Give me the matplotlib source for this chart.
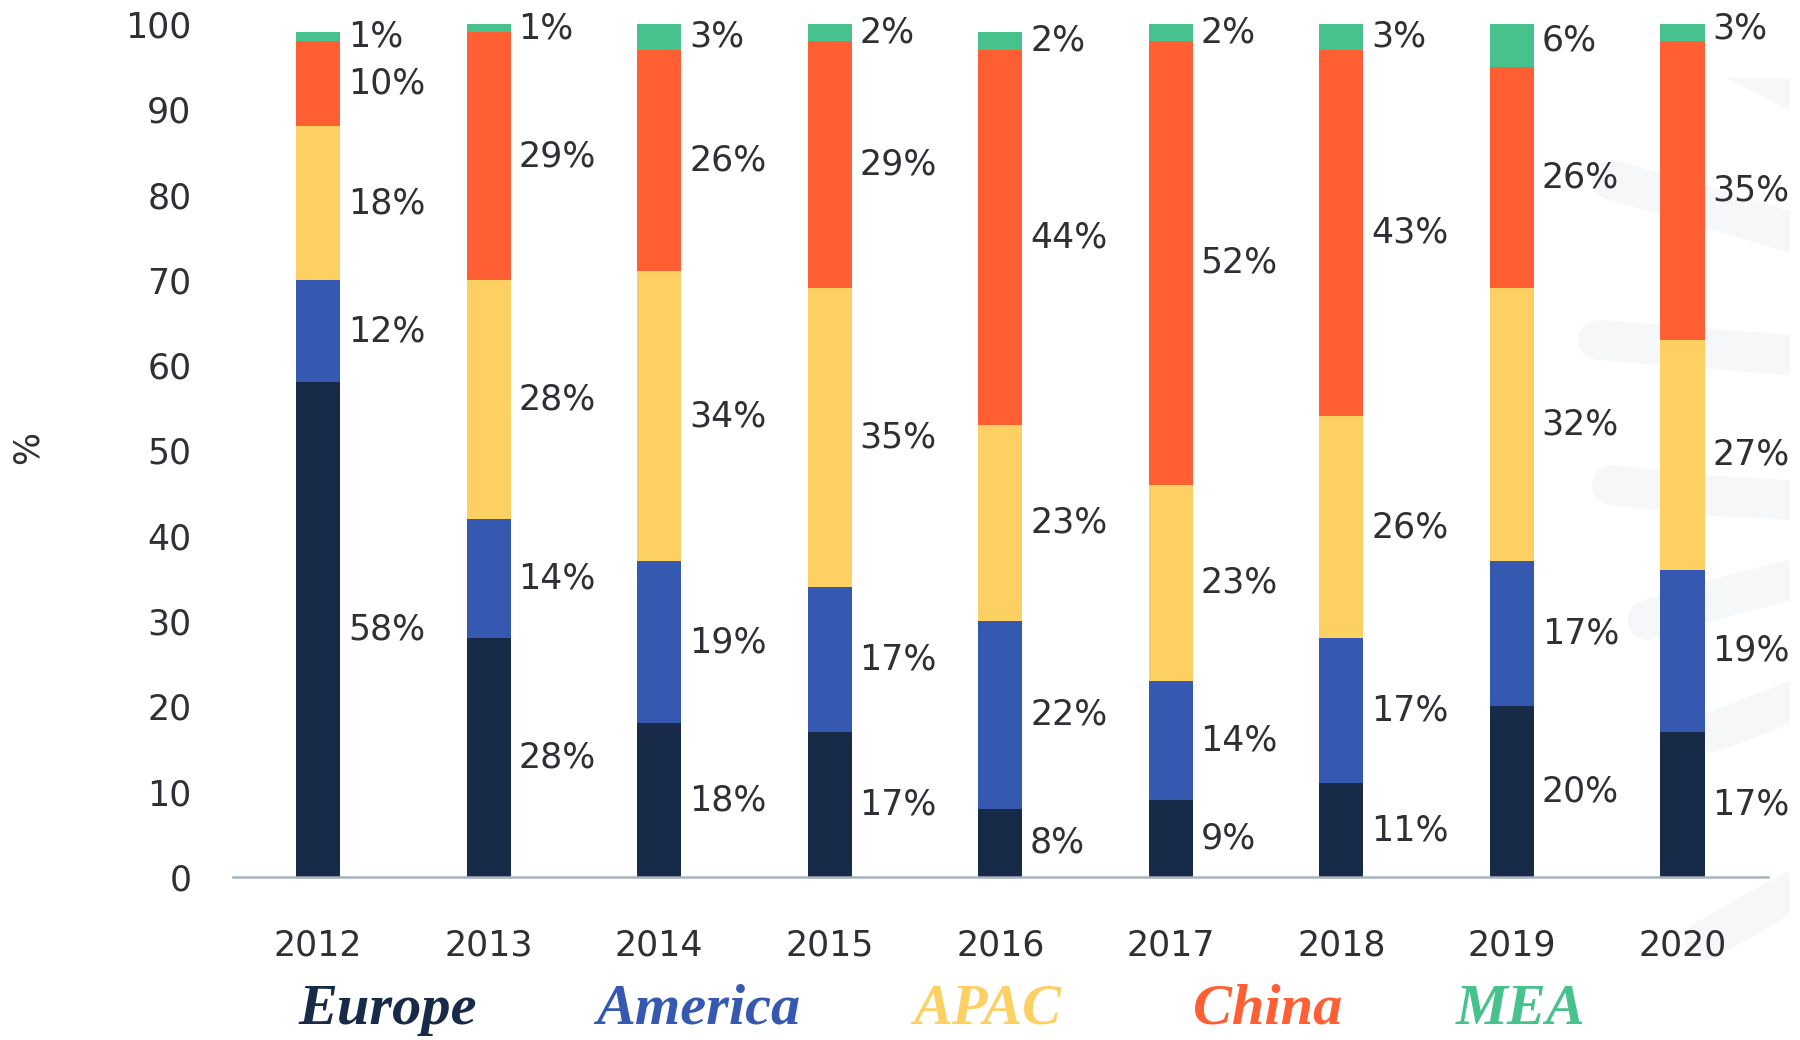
import matplotlib
matplotlib.use("Agg")
import matplotlib.pyplot as plt
from matplotlib.lines import Line2D
from matplotlib.patches import Rectangle
import numpy as np

years = ["2012", "2013", "2014", "2015", "2016", "2017", "2018", "2019", "2020"]
regions = ["Europe", "America", "APAC", "China", "MEA"]
europe = [58, 28, 18, 17, 8, 9, 11, 20, 17]
america = [12, 14, 19, 17, 22, 14, 17, 17, 19]
apac = [18, 28, 34, 35, 23, 23, 26, 32, 27]
china = [10, 29, 26, 29, 44, 52, 43, 26, 35]
mea = [1, 1, 3, 2, 2, 2, 3, 6, 3]
colors = ["#172b48", "#3558b0", "#fdd063", "#ff5f33", "#48c28d"]
yticks = [0, 10, 20, 30, 40, 50, 60, 70, 80, 90, 100]

series = [europe, america, apac, china, mea]
text_c = "#2f3036"

fig = plt.figure(figsize=(18, 10.4), dpi=100)

# faint brush strokes in the background, right edge
clip = Rectangle((1560, 0), 230, 962, transform=None)
strokes = [
    ([1652, 1700, 1790], [20, 45, 92], 34),
    ([1612, 1700, 1790], [180, 205, 232], 40),
    ([1598, 1700, 1790], [340, 348, 355], 40),
    ([1612, 1700, 1790], [485, 495, 500], 40),
    ([1648, 1720, 1790], [620, 598, 580], 40),
    ([1712, 1750, 1790], [732, 718, 702], 40),
    ([1705, 1750, 1790], [940, 915, 892], 40),
]
for xs, ys, w in strokes:
    ln = Line2D(xs, [1040 - y for y in ys], transform=None, color="#f6f7f9",
                lw=w * 0.72, solid_capstyle="round", zorder=0)
    ln.set_clip_path(clip)
    fig.add_artist(ln)

ax = fig.add_axes([0.1294, 0.1567, 0.8526, 0.8203])
ax.patch.set_alpha(0)

x = np.arange(len(years))
width = 0.26
bottom = np.zeros(len(years))
for vals, c in zip(series, colors):
    ax.bar(x, vals, width, bottom=bottom, color=c, zorder=3)
    for i, v in enumerate(vals):
        ax.text(x[i] + width / 2 + 0.045, bottom[i] + v / 2, f"{v}%",
                ha="left", va="center", fontsize=25, color=text_c)
    bottom += np.array(vals)

ax.set_xlim(-0.5, 8.5)
ax.set_ylim(0, 100)
ax.set_xticks(x)
ax.set_xticklabels(years)
ax.set_yticks(yticks)
ax.tick_params(axis="y", length=0, pad=30, labelsize=25, labelcolor=text_c)
ax.tick_params(axis="x", length=0, pad=37, labelsize=25, labelcolor=text_c)
for s in ["top", "right", "left"]:
    ax.spines[s].set_visible(False)
ax.spines["bottom"].set_color("#a8b0bc")
ax.spines["bottom"].set_linewidth(1.8)
ax.spines["bottom"].set_zorder(4)

fig.text(28 / 1800, 1 - 448 / 1040, "%", rotation=90, ha="center", va="center",
         fontsize=25, color=text_c)

# coloured region names under the chart
legend_x = [388, 698, 987, 1268, 1521]
for name, c, lx in zip(regions, colors, legend_x):
    fig.text(lx / 1800, 1 - 1010 / 1040, name, ha="center", va="center",
             fontsize=42, color=c, family="Liberation Serif",
             weight="bold", style="italic")

fig.savefig("out.png", dpi=100)
